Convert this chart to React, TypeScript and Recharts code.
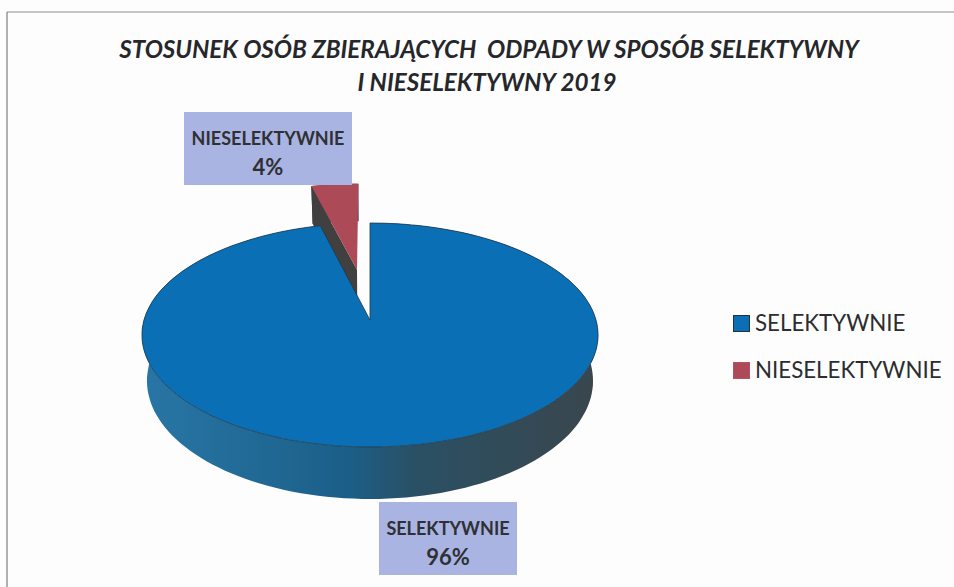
import React from 'react';
import { PieChart, Pie, Cell, Legend } from 'recharts';

// draw order: the exploded slice has to sit behind the big one
const categories = ['NIESELEKTYWNIE', 'SELEKTYWNIE'];
const shares = [4, 96];
const sliceColors = ['#ad4a58', '#0a6fb5'];
const legendOrder = ['SELEKTYWNIE', 'NIESELEKTYWNIE'];
const titleLines = ['STOSUNEK OSÓB ZBIERAJĄCYCH  ODPADY W SPOSÓB SELEKTYWNY', 'I NIESELEKTYWNY 2019'];

const data = categories.map((name, i) => ({ name, value: shares[i] }));

const FONT = 'Lato, "Open Sans", sans-serif';
const TILT = 110 / 226; // vertical squash of the disc
const PERSPECTIVE = 0.134;
const DEPTH = 45;
const BOTTOM_SHRINK = 0.978; // lower face of the disc is further from the camera
const EXPLODE = 0.49;
const startAngle = 90 + (shares[0] / 100) * 360;

const RAD = Math.PI / 180;

const project = (cx: number, cy: number, r: number, u: number, v: number, drop = 0) => {
  const w = 1 + PERSPECTIVE * v;
  const shrink = drop ? BOTTOM_SHRINK : 1;
  return [cx + (r * u * shrink) / w, cy - (r * TILT * v) / w + (drop * DEPTH) / w];
};

const toPath = (pts: number[][]) =>
  pts.map((p, i) => `${i ? 'L' : 'M'}${p[0].toFixed(1)},${p[1].toFixed(1)}`).join(' ') + ' Z';

const Slice3D = (props: any) => {
  const { cx, cy, outerRadius: r, startAngle: a0, endAngle: a1, fill, name } = props;
  const exploded = name === 'NIESELEKTYWNIE';
  const mid = ((a0 + a1) / 2) * RAD;
  const ox = exploded ? Math.cos(mid) * EXPLODE : 0;
  const oy = exploded ? Math.sin(mid) * EXPLODE : 0;

  const steps = Math.max(4, Math.ceil(Math.abs(a1 - a0) / 2));
  const arc = (drop: number) => {
    const pts: number[][] = [];
    for (let i = 0; i <= steps; i++) {
      const a = (a0 + ((a1 - a0) * i) / steps) * RAD;
      pts.push(project(cx, cy, r, Math.cos(a) + ox, Math.sin(a) + oy, drop));
    }
    return pts;
  };
  const top = arc(0);
  const bottom = arc(1);
  const apex = project(cx, cy, r, ox, oy, 0);
  const apexLow = project(cx, cy, r, ox, oy, 1);

  return (
    <g>
      <path d={toPath([...top, ...bottom.slice().reverse()])} fill={exploded ? '#404040' : 'url(#sideShade)'} stroke="none" />
      {exploded && <path d={toPath([top[0], apex, apexLow, bottom[0]])} fill="#404040" stroke="none" />}
      <path d={toPath([apex, ...top])} fill={fill} stroke={exploded ? 'none' : '#20384a'} strokeWidth={0.8} />
    </g>
  );
};

const boxStyle = { fill: '#a9b4e3' };

const SliceLabel = (props: any) => {
  const { name, percent } = props;
  const exploded = name === 'NIESELEKTYWNIE';
  const x = exploded ? 184 : 379;
  const w = exploded ? 168 : 138;
  const y = exploded ? 112 : 502;
  return (
    <g fontFamily={FONT} fontWeight={700} fill="#2f3033" textAnchor="middle">
      <rect x={x} y={y} width={w} height={73} {...boxStyle} />
      <text x={x + w / 2} y={y + 33} fontSize={18}>{name}</text>
      <text x={x + w / 2} y={y + 63} fontSize={22}>{`${Math.round(percent * 100)}%`}</text>
    </g>
  );
};

const LegendBox = () => (
  <div style={{ fontFamily: FONT, fontSize: 22.3, color: '#2b2d30', lineHeight: '24px' }}>
    {legendOrder.map((name, i) => (
      <div key={name} style={{ display: 'flex', alignItems: 'center', height: 24, marginBottom: i ? 0 : 23 }}>
        <span
          style={{
            width: 15,
            height: 15,
            marginRight: 5,
            background: sliceColors[categories.indexOf(name)],
            border: i ? '1px solid #b8505e' : '1px solid #1f3340',
          }}
        />
        {name}
      </div>
    ))}
  </div>
);

const App: React.FC = () => {
  return (
    <div style={{ position: 'absolute', left: 0, top: 0, width: 954, height: 587, overflow: 'hidden', background: '#fdfdfd' }}>
      <PieChart width={954} height={587} margin={{ top: 0, right: 0, bottom: 0, left: 0 }}>
        <defs>
          <linearGradient id="sideShade" gradientUnits="userSpaceOnUse" x1={142} y1={0} x2={598} y2={0}>
            <stop offset="0%" stopColor="#2876a6" />
            <stop offset="45%" stopColor="#1b5f88" />
            <stop offset="60%" stopColor="#2a5064" />
            <stop offset="100%" stopColor="#3a464d" />
          </linearGradient>
        </defs>
        <line x1={7} y1={12} x2={954} y2={12} stroke="#8d8d8d" strokeWidth={1.2} />
        <line x1={7} y1={12} x2={7} y2={587} stroke="#7d7d7d" strokeWidth={1.2} />
        {titleLines.map((line, i) => (
          <text
            key={line}
            x={i ? 487 : 489}
            y={58 + i * 33}
            textAnchor="middle"
            fontFamily={FONT}
            fontWeight={700}
            fontStyle="italic"
            fontSize={24.2}
            fill="#26272a"
            xmlSpace="preserve"
          >
            {line}
          </text>
        ))}
        <Pie
          data={data}
          dataKey="value"
          nameKey="name"
          cx={370}
          cy={320}
          outerRadius={226}
          startAngle={startAngle}
          endAngle={startAngle - 360}
          stroke="none"
          paddingAngle={0}
          shape={Slice3D}
          label={SliceLabel}
          labelLine={false}
          isAnimationActive={false}
        >
          {data.map((d, i) => (
            <Cell key={d.name} fill={sliceColors[i]} />
          ))}
        </Pie>
        <Legend content={LegendBox} wrapperStyle={{ left: 733, top: 311, width: 220, bottom: 'auto' }} />
      </PieChart>
    </div>
  );
};

export default App;
